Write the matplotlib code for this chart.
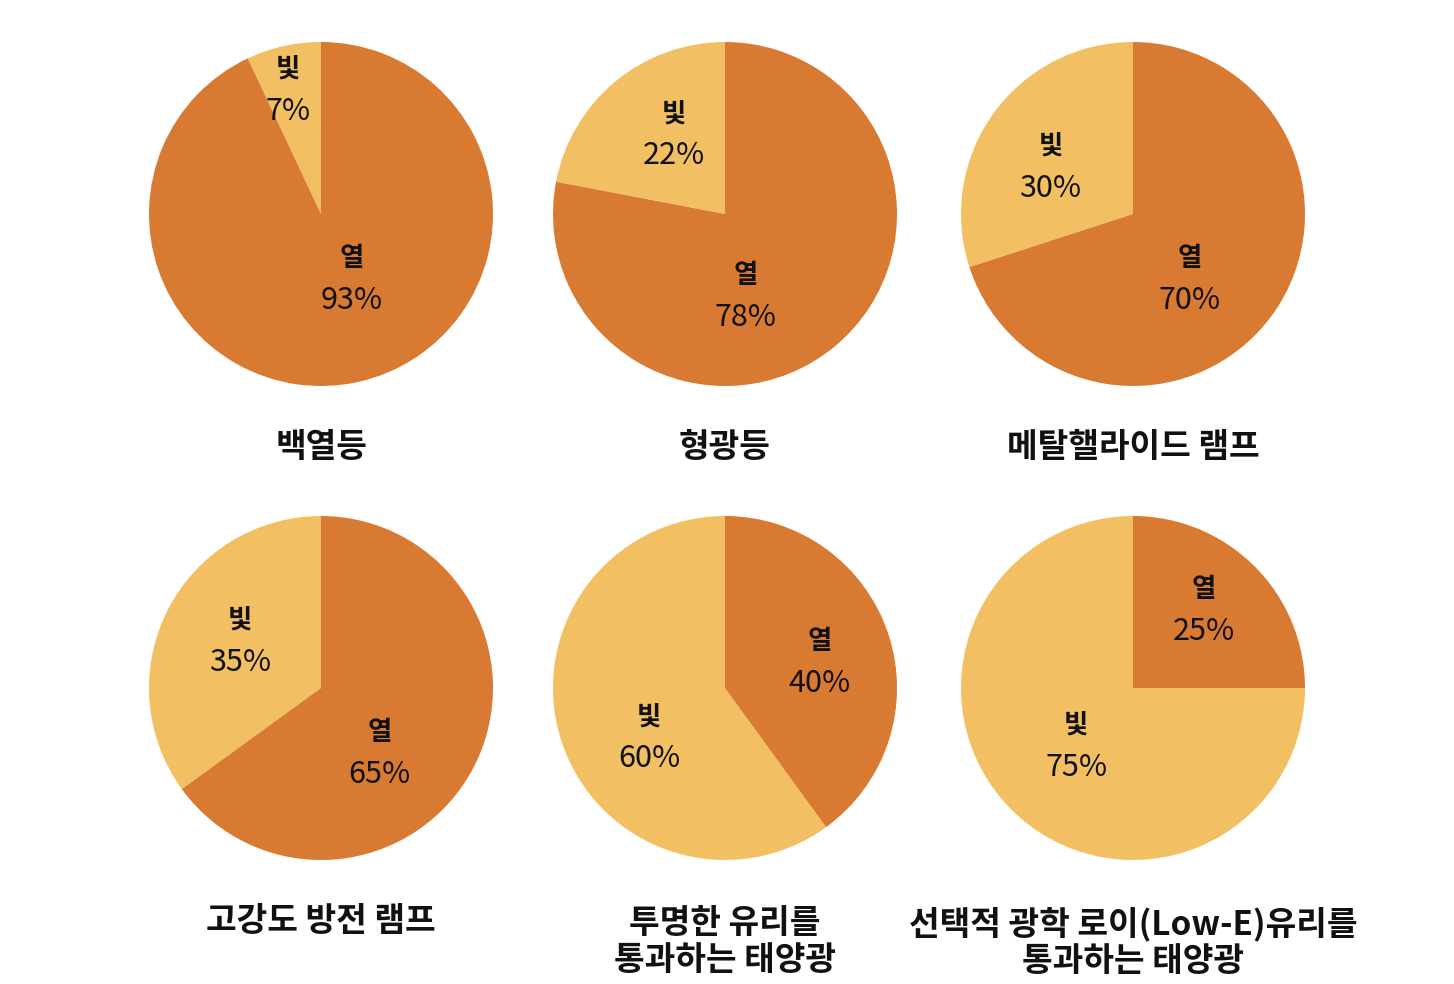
import matplotlib
matplotlib.use("Agg")
import matplotlib.pyplot as plt

plt.rcParams['font.family'] = ['Noto Sans CJK KR', 'DejaVu Sans']

# ---- data ----
titles = ["백열등", "형광등", "메탈핼라이드 램프",
          "고강도 방전 램프", "투명한 유리를\n통과하는 태양광",
          "선택적 광학 로이(Low-E)유리를\n통과하는 태양광"]
slice_names = ["빛", "열"]
light_pct = [7, 22, 30, 35, 60, 75]
heat_pct = [93, 78, 70, 65, 40, 25]

# ---- layout (pixels) ----
W, H = 1454, 984
R = 172
centers = [(321, 214), (725, 214), (1133, 214),
           (321, 688), (725, 688), (1133, 688)]
title_y = [447, 447, 447, 922, 942, 942]
# label block centres as fraction of radius: (light, heat)
label_pos = [((-0.19, 0.72), (0.18, -0.38)),
             ((-0.30, 0.46), (0.12, -0.48)),
             ((-0.48, 0.27), (0.33, -0.38)),
             ((-0.47, 0.27), (0.34, -0.38)),
             ((-0.44, -0.29), (0.55, 0.15)),
             ((-0.33, -0.34), (0.41, 0.45))]

colors = ['#F2C063', '#D97A33']

fig = plt.figure(figsize=(W / 100, H / 100), dpi=100)

for i in range(6):
    cx, cy = centers[i]
    ax = fig.add_axes([(cx - R) / W, (H - cy - R) / H, 2 * R / W, 2 * R / H])
    ax.pie([light_pct[i], heat_pct[i]], colors=colors, startangle=90,
           counterclock=True, radius=1.0,
           wedgeprops=dict(linewidth=0))
    ax.set_xlim(-1, 1)
    ax.set_ylim(-1, 1)
    ax.set_aspect('equal')
    ax.axis('off')
    vals = [light_pct[i], heat_pct[i]]
    for j in range(2):
        lx, ly = label_pos[i][j]
        off = 21 / R
        ax.text(lx, ly + off, slice_names[j], ha='center', va='center',
                fontsize=19, fontweight='bold', color='#111111')
        ax.text(lx, ly - off, f"{vals[j]}%", ha='center', va='center',
                fontsize=22, color='#111111')
    fig.text(cx / W, 1 - title_y[i] / H, titles[i], ha='center', va='center',
             fontsize=24, fontweight='bold', color='#111111', linespacing=1.15)

fig.savefig("out.png", dpi=100, facecolor='white')
